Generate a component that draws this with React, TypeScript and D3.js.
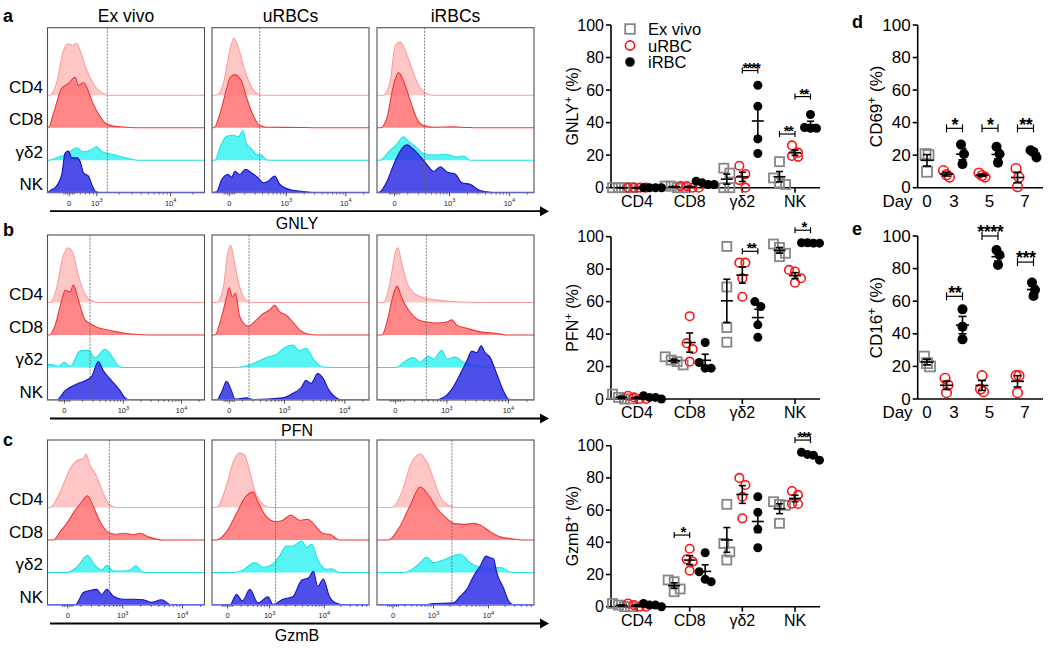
import React from "react";
import * as d3 from "d3";

type Pt = [number, number];
const FONT = "Liberation Sans, Arial, Helvetica, sans-serif";

// ---------- Histogram data: [x position in % of axis, relative height] ----------
const rowNames = ["CD4", "CD8", "γδ2", "NK"];
const colTitles = ["Ex vivo", "uRBCs", "iRBCs"];

const gnlyExVivo: Pt[][] = [
  [[1.3,0],[5.9,0.25],[10.2,0.86],[13.3,0.99],[16,0.96],[18.6,1.0],[20.8,0.86],[23.9,0.57],[29.2,0.22],[35.6,0.03],[39.8,0]],
  [[0.6,0],[3.8,0.27],[9.1,0.76],[13.3,0.85],[17.6,0.97],[19.7,0.81],[22.9,0.87],[25.4,0.75],[28.2,0.52],[32.4,0.27],[36.7,0.09],[41.9,0.03],[50.4,0.01],[60,0]],
  [[0.6,0],[7,0.06],[12.3,0.12],[18.6,0.24],[22.9,0.16],[27.1,0.19],[31.4,0.26],[34.5,0.17],[39.8,0.12],[44.1,0.09],[50.4,0.04],[57.8,0]],
  [[1.7,0.04],[4.9,0.1],[9.1,0.35],[11.2,0.76],[13.3,0.8],[15.5,0.67],[18.6,0.67],[20.8,0.6],[22.9,0.38],[26.1,0.32],[28.2,0.16],[30.3,0.03],[33.5,0]],
];
const gnlyURBC: Pt[][] = [
  [[3,0],[7.2,0.22],[11.4,0.86],[13.9,1.1],[16.7,0.92],[20.9,0.48],[25.1,0.16],[29.3,0.02],[32.5,0]],
  [[1.3,0],[5.1,0.27],[9.3,0.75],[11.4,0.96],[14.6,1.02],[16.7,0.98],[18.8,0.9],[21.9,0.59],[26.2,0.24],[30.4,0.04],[34.6,0.01],[55.7,0.005],[65,0]],
  [[1.9,0],[5.1,0.25],[9.3,0.46],[13.5,0.48],[16.7,0.45],[19.8,0.57],[21.9,0.32],[25.1,0.22],[28.3,0.11],[31.4,0.1],[34.6,0.01],[38,0]],
  [[3,0.02],[6.1,0.25],[10.3,0.35],[12.5,0.3],[14.6,0.41],[17.7,0.35],[21.3,0.45],[25.1,0.38],[29.3,0.29],[32.5,0.19],[35.7,0.22],[39.9,0.32],[43,0.17],[49.4,0.06],[55.7,0.03],[66.2,0]],
];
const gnlyIRBC: Pt[][] = [
  [[4.2,0],[8.5,0.29],[11.7,0.96],[14.8,1.02],[18,0.86],[22.2,0.51],[26.5,0.19],[31.8,0.03],[36,0]],
  [[2.1,0],[6.4,0.2],[10.6,0.83],[13.8,1.06],[16.9,0.9],[21.2,0.52],[25.4,0.17],[29.7,0.04],[36,0.01],[48.7,0.015],[57,0.005],[62,0]],
  [[2.1,0],[7.4,0.16],[12.7,0.31],[16.9,0.45],[20,0.36],[23.3,0.29],[29.7,0.13],[36,0.1],[44.5,0.11],[50.8,0.06],[55.1,0.08],[59.3,0]],
  [[2.1,0.02],[6.4,0.22],[10.6,0.54],[14.8,0.8],[19.1,0.92],[23.3,0.83],[27.5,0.7],[31.8,0.54],[36,0.41],[40.3,0.5],[44.5,0.4],[49.8,0.36],[54,0.19],[59.3,0.16],[65.7,0.04],[72,0.01],[78,0]],
];
const pfnExVivo: Pt[][] = [
  [[1.7,0],[5.9,0.29],[9.1,0.8],[13.3,1.05],[16.5,0.92],[19.7,0.51],[23.9,0.16],[29.2,0.02],[33.5,0]],
  [[1.3,0],[4.9,0.19],[9.1,0.67],[11.2,0.86],[14.4,0.83],[16.5,0.96],[19.7,0.67],[23.9,0.29],[27.1,0.22],[31.4,0.15],[37.7,0.1],[44.1,0.06],[50.4,0.03],[57.8,0.01],[65,0]],
  [[0,0.06],[3.8,0.05],[7,0.02],[10.6,0.1],[14.4,0.02],[20.8,0.32],[26.1,0.33],[30.3,0.19],[36.7,0.35],[40.9,0.22],[45.1,0.03],[48.3,0]],
  [[5.9,0],[11.2,0.18],[19.7,0.32],[23.9,0.37],[28.2,0.46],[32.4,0.74],[35.6,0.56],[40.9,0.37],[46.2,0.18],[49.4,0.04],[52.5,0]],
];
const pfnURBC: Pt[][] = [
  [[3,0],[7.2,0.29],[9.9,0.92],[11.8,1.1],[14.6,0.73],[17.7,0.29],[21.9,0.04],[26.2,0]],
  [[1.9,0],[6.1,0.35],[9.3,0.73],[11,0.91],[12.9,0.73],[15,0.8],[17.7,0.35],[23,0.17],[28.3,0.29],[32.5,0.41],[36.7,0.48],[39.9,0.57],[43,0.45],[47.3,0.38],[51.5,0.25],[55.7,0.1],[61,0.02],[66.2,0]],
  [[13.5,0],[21.9,0.03],[28.3,0.1],[34.6,0.19],[40.9,0.25],[46.2,0.38],[51.5,0.43],[55.7,0.32],[59.9,0.37],[65.2,0.13],[70.5,0.01],[83,0]],
  [[3,0],[6.1,0.15],[9.3,0.36],[12.4,0.18],[14.6,0.02],[21.9,0.04],[26.2,0.01],[45.1,0.04],[51.5,0.13],[56.8,0.24],[59.9,0.38],[63.1,0.32],[67.3,0.51],[70.5,0.43],[74.7,0.18],[78.9,0.05],[83.1,0]],
];
const pfnIRBC: Pt[][] = [
  [[4.2,0],[8.5,0.41],[11.7,0.96],[13.3,1.05],[15.9,0.73],[19.1,0.38],[24.4,0.16],[31.8,0.08],[40.3,0.04],[53,0.01],[68,0]],
  [[3.2,0],[6.4,0.25],[9.5,0.67],[12.7,0.94],[15.9,0.7],[20.1,0.48],[26.5,0.29],[31.8,0.25],[38.1,0.23],[44.5,0.25],[47.7,0.29],[50.8,0.19],[57.2,0.13],[65.7,0.06],[76.3,0.03],[82.6,0]],
  [[12.7,0],[16.9,0.1],[23.3,0.19],[27.5,0.1],[32.8,0.22],[36,0.16],[41.3,0.33],[44.5,0.16],[49.8,0.2],[55.1,0.1],[61.4,0.05],[69.9,0.01],[82.6,0]],
  [[36,0],[42.4,0.05],[47.7,0.21],[53,0.5],[57.2,0.75],[60.4,0.94],[63.6,0.91],[66.3,1.04],[68.9,0.91],[72,0.82],[76.3,0.5],[80.5,0.18],[83.7,0.02],[87,0]],
];
const gzmbExVivo: Pt[][] = [
  [[1.7,0],[8.1,0.3],[13.3,0.68],[18.6,0.9],[22.9,0.94],[24.6,1.03],[26.7,0.84],[30.9,0.62],[35.2,0.3],[38.8,0.08],[44.1,0]],
  [[3.8,0],[8.1,0.16],[12.3,0.32],[17.6,0.57],[21.8,0.73],[25.4,0.85],[29.2,0.64],[33.5,0.35],[37.7,0.17],[43,0.11],[49.4,0.13],[54.7,0.1],[58.9,0.13],[64.2,0.06],[73.7,0]],
  [[12.3,0],[18.6,0.1],[25.4,0.33],[30.3,0.13],[34.5,0.05],[37.7,0.14],[41.9,0.03],[48.3,0.03],[52.5,0.05],[56.4,0.13],[60.2,0.01],[62.3,0]],
  [[17.6,0],[22.9,0.24],[27.1,0.28],[31.4,0.3],[34.5,0.2],[37.7,0.3],[41.9,0.17],[48.3,0.11],[54.7,0.11],[61,0.1],[66.3,0.05],[72.7,0.1],[78,0.01],[82,0]],
];
const gzmbURBC: Pt[][] = [
  [[3,0],[9.3,0.43],[13.5,0.87],[17.7,1.05],[20.9,1.0],[24.1,0.68],[27.2,0.33],[32.5,0.06],[36.7,0]],
  [[3,0],[9.3,0.16],[15.6,0.51],[21.9,0.85],[26.2,0.92],[29.3,0.73],[34.6,0.45],[40.9,0.35],[45.1,0.38],[50.4,0.48],[55.7,0.38],[61,0.4],[65.2,0.29],[70.5,0.13],[75.7,0.1],[81,0]],
  [[13.5,0],[19.8,0.05],[27.2,0.19],[32.5,0.1],[38.8,0.16],[43,0.32],[47.3,0.51],[51.5,0.51],[57.2,0.61],[60.3,0.48],[63.5,0.54],[67.7,0.22],[73,0.06],[76.2,0.07],[81,0]],
  [[11.4,0],[15.6,0.2],[19.4,0.08],[24.1,0.3],[29.3,0.04],[35.7,0.16],[38.8,0.01],[45.1,0.11],[51.5,0.16],[57.2,0.48],[61.4,0.52],[64.6,0.65],[67.3,0.36],[70.9,0.5],[74.7,0.17],[78.9,0.04],[85.2,0]],
];
const gzmbIRBC: Pt[][] = [
  [[9.5,0],[15.9,0.3],[21.2,0.81],[27.5,1.03],[31.8,0.87],[36,0.55],[40.3,0.2],[45.6,0.04],[50.8,0]],
  [[7.4,0],[13.8,0.22],[21.2,0.67],[27.5,1.02],[32.8,0.86],[38.1,0.61],[44.5,0.41],[48.7,0.32],[55.1,0.3],[61.4,0.32],[65.7,0.29],[72,0.16],[78.4,0.06],[84.7,0.03],[93,0]],
  [[16.9,0],[25.4,0.13],[31.8,0.29],[36,0.19],[42.4,0.24],[46.6,0.3],[53,0.35],[59.3,0.19],[65.7,0.1],[72,0.08],[78.4,0.1],[84.7,0.01],[90,0]],
  [[29.7,0],[36,0.03],[48.7,0.04],[53,0.17],[57.2,0.3],[61.4,0.55],[65.7,0.75],[69.5,0.94],[72,0.91],[74.2,0.89],[76.3,0.62],[80.5,0.33],[84.7,0.04],[87.9,0]],
];

// axis tick positions (0, 10^3, 10^4) and gate positions, % of axis
const gnlyTicks = [[13.8,31.4,78.4],[11,47.3,85.2],[11.2,46.2,84.3]];
const pfnTicks = [[10.8,48.3,85.4],[11,46.2,84.6],[11.7,44.5,83.7]];
const gzmbTicks = [[12.9,47.9,86],[9.9,36.7,71.5],[10.2,36,71]];
const gnlyGates = [38.1, 30.4, 30.3];
const pfnGates = [27.1, 23.6, 31.4];
const gzmbGates = [39.4, 40.5, 47.7];

// ---------- Scatter data (% positive) ----------
const cats = ["CD4", "CD8", "γδ2", "NK"];
const groupNames = ["Ex vivo", "uRBC", "iRBC"];

const gnlyExVivoPct = [[0,0,0,0],[0,1,0,1],[9,12,0,0],[16,6,3,2]];
const gnlyURBCPct = [[0,0,0,0],[0,1,1,0],[13.5,8.4,4.7,0],[21.5,19,26,19.5]];
const gnlyIRBCPct = [[0,0,0,0],[2,2,3,4],[63,50,30,21],[45,37,36.5,36.5]];

const pfnExVivoPct = [[0,1,3,0],[24,21,26,23],[94,69,44,35],[95.5,93.4,89.8,87.7]];
const pfnURBCPct = [[0,1,0,2],[51,34.4,30.7,23],[84,84,74.4,63],[78.5,79.5,74.4,71.7]];
const pfnIRBCPct = [[0,1,2,1],[34.8,22.5,19,19],[60,57,45.7,38],[96.3,96,96.3,96]];

const gzmbExVivoPct = [[0,2,1,0],[15.5,16.6,11,9.3],[63.6,39.3,34,29],[65.2,63,63.5,51.8]];
const gzmbURBCPct = [[0,1,0,2],[36,29.4,28,22.4],[80,75.6,68.3,54.9],[69.4,71.8,64,63.8]];
const gzmbIRBCPct = [[1,2,1,0],[33.5,21.7,15.5,17],[68.3,58.6,48.2,36.6],[95.9,94.6,91,94]];

const days = [0, 3, 5, 7];
const cd69ExVivoDay0 = [20.7, 20, 9.8];
const cd69URBC = [[10.5, 8, 6.5], [9, 7.5, 6.5], [11.8, 6.4, 0.6]];
const cd69IRBC = [[26.6, 20.7, 14.5], [25.2, 20.7, 15.4], [23, 22, 18.6]];
const cd16ExVivoDay0 = [26, 22, 20];
const cd16URBC = [[12.7, 8.6, 3.9], [14.3, 6.1, 4.5], [14.3, 14.3, 3.9]];
const cd16IRBC = [[55, 44.4, 36.6], [91.4, 88.3, 82.2], [71.4, 66.9, 63.2]];

// significance: category, group a, group b, bracket height (%), label
const gnlySig = [["γδ2",1,2,72,"****"],["NK",0,1,33,"**"],["NK",1,2,56,"**"]];
const pfnSig = [["γδ2",1,2,91,"**"],["NK",1,2,104,"*"]];
const gzmbSig = [["CD8",0,1,44.5,"*"],["NK",1,2,103.5,"***"]];
const cd69Sig = [[3,36.5,"*"],[5,36.5,"*"],[7,36.5,"**"]];
const cd16Sig = [[3,63,"**"],[5,100,"****"],[7,84,"***"]];

// ---------- styling ----------
const histColors = [
  { fill: "#FFBEBE", stroke: "#FF9C9C" },
  { fill: "#FF7676", stroke: "#EE3838" },
  { fill: "#40F2F2", stroke: "#1EE4E4" },
  { fill: "#3535E6", stroke: "#1212C2" },
];
const BOX_LEFTS = [47.5, 212, 377];
const BOX_W = 157;
const BOX_H = 165;
const ROW_GAP = 32.5;
const UNIT = 52;

function HistPanel(props: {
  id: string; top: number; cols: Pt[][][]; ticks: number[][]; gates: number[];
  marker: string; showTitles?: boolean;
}) {
  const { id, top, cols, ticks, gates, marker, showTitles } = props;
  const bottom = top + BOX_H;
  const arrowY = bottom + 18.5;
  return (
    <g>
      {showTitles && colTitles.map((t, c) => (
        <text key={t} x={BOX_LEFTS[c] + BOX_W / 2} y={22} textAnchor="middle" fontSize={17.5}>{t}</text>
      ))}
      {rowNames.map((r, i) => (
        <text key={r} x={43} y={bottom - (3 - i) * ROW_GAP - 8} textAnchor="end" dominantBaseline="central" fontSize={17}>{r}</text>
      ))}
      {cols.map((curves, c) => {
        const left = BOX_LEFTS[c];
        const x = d3.scaleLinear().domain([0, 100]).range([left, left + BOX_W]);
        const clip = `clip-${id}-${c}`;
        const [p0, p3, p4] = ticks[c];
        const minor: number[] = [];
        for (let k = 2; k <= 9; k++) {
          const lo = p3 + (Math.log10(k) - 1) * (p4 - p3);
          if (lo > p0 + 5) minor.push(lo);
          minor.push(p3 + Math.log10(k) * (p4 - p3));
          const hi = p4 + Math.log10(k) * (p4 - p3);
          if (hi < 99) minor.push(hi);
        }
        for (let j = -3; j <= 3; j++) if (j !== 0) minor.push(p0 + j * 1.1);
        return (
          <g key={c}>
            <clipPath id={clip}><rect x={left} y={top} width={BOX_W} height={BOX_H} /></clipPath>
            <g clipPath={`url(#${clip})`}>
              {curves.map((pts, r) => {
                const base = bottom - (3 - r) * ROW_GAP;
                const y = d3.scaleLinear().domain([0, 1]).range([base, base - UNIT]);
                const data: Pt[] = [
                  ...(pts[0][0] > 0 ? [[0, 0] as Pt] : []),
                  ...pts,
                  ...(pts[pts.length - 1][0] < 100 ? [[100, 0] as Pt] : []),
                ];
                const area = d3.area<Pt>().x(d => x(d[0])).y0(base).y1(d => y(d[1])).curve(d3.curveMonotoneX);
                const line = d3.line<Pt>().x(d => x(d[0])).y(d => y(d[1])).curve(d3.curveMonotoneX);
                return (
                  <g key={r}>
                    <path d={area(data) || ""} fill={histColors[r].fill} fillOpacity={0.88} />
                    <path d={line(data) || ""} fill="none" stroke={histColors[r].stroke} strokeWidth={1.1} />
                  </g>
                );
              })}
            </g>
            <line x1={x(gates[c])} x2={x(gates[c])} y1={top} y2={bottom} stroke="#666" strokeWidth={0.8} strokeDasharray="2,1.2" />
            <rect x={left} y={top} width={BOX_W} height={BOX_H} fill="none" stroke="#505050" strokeWidth={1.1} />
            <line x1={left} x2={left + BOX_W} y1={bottom - 0.5} y2={bottom - 0.5} stroke="#6a6af0" strokeWidth={1} />
            {minor.map((m, k) => (
              <line key={k} x1={x(m)} x2={x(m)} y1={bottom} y2={bottom + 2} stroke="#222" strokeWidth={0.6} />
            ))}
            {[p0, p3, p4].map((m, k) => (
              <line key={"M" + k} x1={x(m)} x2={x(m)} y1={bottom} y2={bottom + 3.5} stroke="#222" strokeWidth={0.8} />
            ))}
            <text x={x(p0)} y={bottom + 13} fontSize={7.5} textAnchor="middle" fill="#222">0</text>
            <text x={x(p3)} y={bottom + 13} fontSize={7.5} textAnchor="middle" fill="#222">10<tspan dy={-3.5} fontSize={5.5}>3</tspan></text>
            <text x={x(p4)} y={bottom + 13} fontSize={7.5} textAnchor="middle" fill="#222">10<tspan dy={-3.5} fontSize={5.5}>4</tspan></text>
          </g>
        );
      })}
      <line x1={50} x2={541} y1={arrowY} y2={arrowY} stroke="#000" strokeWidth={1.8} />
      <polygon points={`540,${arrowY - 5} 549,${arrowY} 540,${arrowY + 5}`} fill="#000" />
      <text x={297} y={bottom + 36} textAnchor="middle" fontSize={16}>{marker}</text>
    </g>
  );
}

function swarm(vals: number[], y: (v: number) => number, thresh: number, step: number) {
  const items = vals.map((v, i) => ({ v, i, py: y(v) })).sort((a, b) => a.py - b.py);
  const offs = new Array(vals.length).fill(0);
  let row: { v: number; i: number; py: number }[] = [];
  const flush = () => row.forEach((it, k) => { offs[it.i] = (k - (row.length - 1) / 2) * step; });
  for (const it of items) {
    if (row.length && Math.abs(it.py - row[0].py) >= thresh) { flush(); row = []; }
    row.push(it);
  }
  flush();
  return offs;
}

function Marker({ kind, cx, cy, r }: { kind: number; cx: number; cy: number; r: number }) {
  if (kind === 0) return <rect x={cx - r} y={cy - r} width={2 * r} height={2 * r} fill="none" stroke="#868686" strokeWidth={1.8} />;
  if (kind === 1) return <circle cx={cx} cy={cy} r={r - 0.2} fill="none" stroke="#FF1414" strokeWidth={1.6} />;
  return <circle cx={cx} cy={cy} r={r} fill="#000" />;
}

function Group({ vals, cx, y, kind, r, step }: { vals: number[]; cx: number; y: d3.ScaleLinear<number, number>; kind: number; r: number; step: number }) {
  const offs = swarm(vals, y, 2 * r + 1, step);
  return (
    <g>
      {vals.map((v, i) => <Marker key={i} kind={kind} cx={cx + offs[i]} cy={y(v)} r={r} />)}
    </g>
  );
}

function ErrBar({ vals, cx, y, meanW, capW }: { vals: number[]; cx: number; y: d3.ScaleLinear<number, number>; meanW: number; capW: number }) {
  const mean = d3.mean(vals) || 0;
  const sem = (d3.deviation(vals) || 0) / Math.sqrt(vals.length);
  return (
    <g stroke="#000" strokeWidth={1.6}>
      <line x1={cx} x2={cx} y1={y(mean + sem)} y2={y(mean - sem)} />
      <line x1={cx - meanW / 2} x2={cx + meanW / 2} y1={y(mean)} y2={y(mean)} />
      <line x1={cx - capW / 2} x2={cx + capW / 2} y1={y(mean + sem)} y2={y(mean + sem)} />
      <line x1={cx - capW / 2} x2={cx + capW / 2} y1={y(mean - sem)} y2={y(mean - sem)} />
    </g>
  );
}

function Bracket({ x1, x2, yy, label, fs, ls, tick }: { x1: number; x2: number; yy: number; label: string; fs: number; ls: number; tick: number }) {
  return (
    <g>
      <line x1={x1} x2={x2} y1={yy} y2={yy} stroke="#000" strokeWidth={1.2} />
      <line x1={x1} x2={x1} y1={yy - tick} y2={yy + tick} stroke="#000" strokeWidth={1.2} />
      <line x1={x2} x2={x2} y1={yy - tick} y2={yy + tick} stroke="#000" strokeWidth={1.2} />
      <text x={(x1 + x2) / 2 - ls / 2} y={yy + fs * 0.13} textAnchor="middle" fontSize={fs} fontWeight="bold" letterSpacing={ls}>{label}</text>
    </g>
  );
}

function YAxis({ ax, y, fs, title, titleX }: { ax: number; y: d3.ScaleLinear<number, number>; fs: number; title: string; titleX: number }) {
  const ticks = d3.range(0, 101, 20);
  const [b, t] = y.range();
  const cy = (b + t) / 2;
  return (
    <g>
      <line x1={ax} x2={ax} y1={t} y2={b} stroke="#000" strokeWidth={1.6} />
      {ticks.map(v => (
        <g key={v}>
          <line x1={ax - 5} x2={ax} y1={y(v)} y2={y(v)} stroke="#000" strokeWidth={1.6} />
          <text x={ax - 7} y={y(v)} textAnchor="end" dominantBaseline="central" fontSize={fs}>{v}</text>
        </g>
      ))}
      <text transform={`translate(${titleX},${cy}) rotate(-90)`} textAnchor="middle" fontSize={fs}>
        {title}<tspan dy={-6} fontSize={fs * 0.7}>+</tspan><tspan dy={6}> (%)</tspan>
      </text>
    </g>
  );
}

function CatScatter(props: { top: number; bottom: number; groups: number[][][]; sigs: any[]; title: string; legend?: boolean }) {
  const { top, bottom, groups, sigs, title, legend } = props;
  const y = d3.scaleLinear().domain([0, 100]).range([bottom, top]);
  const x = d3.scalePoint<string>().domain(cats).range([637, 795]);
  const gOff = d3.scalePoint<number>().domain([0, 1, 2]).range([-15.5, 15.5]);
  const AX = 611, AXEND = 820;
  return (
    <g>
      <YAxis ax={AX} y={y} fs={16} title={title} titleX={578} />
      <line x1={AX} x2={AXEND} y1={bottom} y2={bottom} stroke="#000" strokeWidth={1.6} />
      {cats.map(c => (
        <g key={c}>
          <line x1={x(c)!} x2={x(c)!} y1={bottom} y2={bottom + 5} stroke="#000" strokeWidth={1.6} />
          <text x={x(c)!} y={bottom + 19} textAnchor="middle" fontSize={16}>{c}</text>
        </g>
      ))}
      {groups.map((g, gi) => g.map((vals, ci) => (
        <Group key={gi + "-" + ci} vals={vals} cx={x(cats[ci])! + gOff(gi)!} y={y} kind={gi} r={4.5} step={6} />
      )))}
      {groups.map((g, gi) => g.map((vals, ci) => (
        <ErrBar key={"e" + gi + "-" + ci} vals={vals} cx={x(cats[ci])! + gOff(gi)!} y={y} meanW={12} capW={7} />
      )))}
      {sigs.map((s, k) => (
        <Bracket key={k} x1={x(s[0])! + gOff(s[1])!} x2={x(s[0])! + gOff(s[2])!} yy={y(s[3])} label={s[4]} fs={15} ls={-1.6} tick={3} />
      ))}
      {legend && groupNames.map((n, i) => {
        const ly = d3.scaleLinear().domain([0, 2]).range([29, 62]);
        return (
          <g key={n}>
            <Marker kind={i} cx={630} cy={ly(i)} r={4.8} />
            <text x={648} y={ly(i)} dominantBaseline="central" fontSize={16.5}>{n}</text>
          </g>
        );
      })}
    </g>
  );
}

function DayScatter(props: { top: number; bottom: number; exVivo: number[]; urbc: number[][]; irbc: number[][]; sigs: any[]; title: string }) {
  const { top, bottom, exVivo, urbc, irbc, sigs, title } = props;
  const y = d3.scaleLinear().domain([0, 100]).range([bottom, top]);
  const x = d3.scaleLinear().domain([0, 3, 7]).range([927, 954, 1025]);
  const AX = 917.7, AXEND = 1043;
  const uOff = -7.5, iOff = 8.5;
  return (
    <g>
      <YAxis ax={AX} y={y} fs={17} title={title} titleX={882} />
      <line x1={AX} x2={AXEND} y1={bottom} y2={bottom} stroke="#000" strokeWidth={1.6} />
      <text x={897.5} y={bottom + 19} textAnchor="middle" fontSize={17}>Day</text>
      {days.map(d => (
        <text key={d} x={x(d)} y={bottom + 19} textAnchor="middle" fontSize={17}>{d}</text>
      ))}
      <Group vals={exVivo} cx={x(0)} y={y} kind={0} r={5} step={3} />
      {urbc.map((v, k) => <Group key={"u" + k} vals={v} cx={x(days[k + 1]) + uOff} y={y} kind={1} r={5} step={3} />)}
      {irbc.map((v, k) => <Group key={"i" + k} vals={v} cx={x(days[k + 1]) + iOff} y={y} kind={2} r={5} step={3} />)}
      <ErrBar vals={exVivo} cx={x(0)} y={y} meanW={13} capW={8} />
      {urbc.map((v, k) => <ErrBar key={"ue" + k} vals={v} cx={x(days[k + 1]) + uOff} y={y} meanW={13} capW={8} />)}
      {irbc.map((v, k) => <ErrBar key={"ie" + k} vals={v} cx={x(days[k + 1]) + iOff} y={y} meanW={13} capW={8} />)}
      {sigs.map((s, k) => (
        <Bracket key={k} x1={x(s[0]) + uOff} x2={x(s[0]) + iOff} yy={y(s[1])} label={s[2]} fs={18} ls={-0.5} tick={4} />
      ))}
    </g>
  );
}

export default function App() {
  return (
    <svg width={1050} height={648} viewBox="0 0 1050 648" fontFamily={FONT}
      style={{ position: "absolute", left: 0, top: 0, background: "#fff" }}>
      <rect x={0} y={0} width={1050} height={648} fill="#fff" />
      <HistPanel id="a" top={27.7} cols={[gnlyExVivo, gnlyURBC, gnlyIRBC]} ticks={gnlyTicks} gates={gnlyGates} marker="GNLY" showTitles />
      <HistPanel id="b" top={235} cols={[pfnExVivo, pfnURBC, pfnIRBC]} ticks={pfnTicks} gates={pfnGates} marker="PFN" />
      <HistPanel id="c" top={440} cols={[gzmbExVivo, gzmbURBC, gzmbIRBC]} ticks={gzmbTicks} gates={gzmbGates} marker="GzmB" />

      <CatScatter top={25} bottom={187.7} groups={[gnlyExVivoPct, gnlyURBCPct, gnlyIRBCPct]} sigs={gnlySig} title="GNLY" legend />
      <CatScatter top={236.7} bottom={399} groups={[pfnExVivoPct, pfnURBCPct, pfnIRBCPct]} sigs={pfnSig} title="PFN" />
      <CatScatter top={445.7} bottom={606.7} groups={[gzmbExVivoPct, gzmbURBCPct, gzmbIRBCPct]} sigs={gzmbSig} title="GzmB" />

      <DayScatter top={25} bottom={187.7} exVivo={cd69ExVivoDay0} urbc={cd69URBC} irbc={cd69IRBC} sigs={cd69Sig} title="CD69" />
      <DayScatter top={236} bottom={399} exVivo={cd16ExVivoDay0} urbc={cd16URBC} irbc={cd16IRBC} sigs={cd16Sig} title="CD16" />

      <g fontWeight="bold" fontSize={18}>
        <text x={3} y={22}>a</text>
        <text x={3} y={236}>b</text>
        <text x={3} y={446}>c</text>
        <text x={852} y={28}>d</text>
        <text x={852} y={235}>e</text>
      </g>
    </svg>
  );
}
